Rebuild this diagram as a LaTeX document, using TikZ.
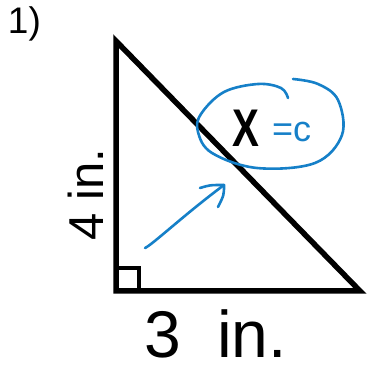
\documentclass[tikz,border=0pt]{standalone}
\usepackage{fontspec}
\setmainfont{Liberation Sans}
\definecolor{pen}{RGB}{22,128,200}
\begin{document}
\begin{tikzpicture}[x=1pt,y=-1pt,
  edge/.style={line width=5.5pt,line join=miter},
  mark90/.style={line width=4pt},
  ink/.style={pen,line width=2.6pt,line cap=round,line join=round},
  lbl/.style={inner sep=0pt,outer sep=0pt}]
\useasboundingbox (0,0) rectangle (367,366);
% triangle
\coordinate (A) at (116,41);
\coordinate (B) at (116,291);
\coordinate (C) at (360,291);
\draw[edge] (A) -- (B) -- (C) -- cycle;
\coordinate (s1) at (116,268);
\coordinate (s2) at (139,268);
\coordinate (s3) at (139,291);
\draw[mark90] (s1) -- (s2) -- (s3);
% labels
\node[lbl,anchor=base west,font=\fontsize{37}{37}\selectfont] (num) at (8,34) {1)};
\node[lbl,anchor=base west,rotate=90,font=\fontsize{49}{49}\selectfont] (side4) at (103,241) {4 in.};
\node[lbl,anchor=base west,text depth=0pt,font=\fontsize{66}{66}\selectfont] (side3) at (144,357) {3\ \ in.};
\node[lbl,anchor=base west,font=\fontsize{53}{53}\selectfont\bfseries] (hx) at (232,147) {\scalebox{0.76}[1]{X}};
\node[lbl,anchor=base west,text=pen,font=\fontsize{36}{36}\selectfont] (eqc) at (272,142) {=c};
% loop
\draw[ink] plot[smooth,tension=0.6] coordinates {(288,98) (281,88) (258,84) (224,92) (201,114) (198,132) (212,153) (257,168) (315,163) (342,135) (338,100) (318,84) (293,79)};
% arrow
\coordinate (a0) at (145,248);
\coordinate (a1) at (224,185);
\coordinate (h1) at (200,188);
\coordinate (h2) at (218,207);
\draw[ink] (a0) .. controls (152,245) and (185,214) .. (a1);
\draw[ink] (h1) .. controls (210,185) .. (a1) .. controls (224,195) .. (h2);
\end{tikzpicture}
\end{document}
